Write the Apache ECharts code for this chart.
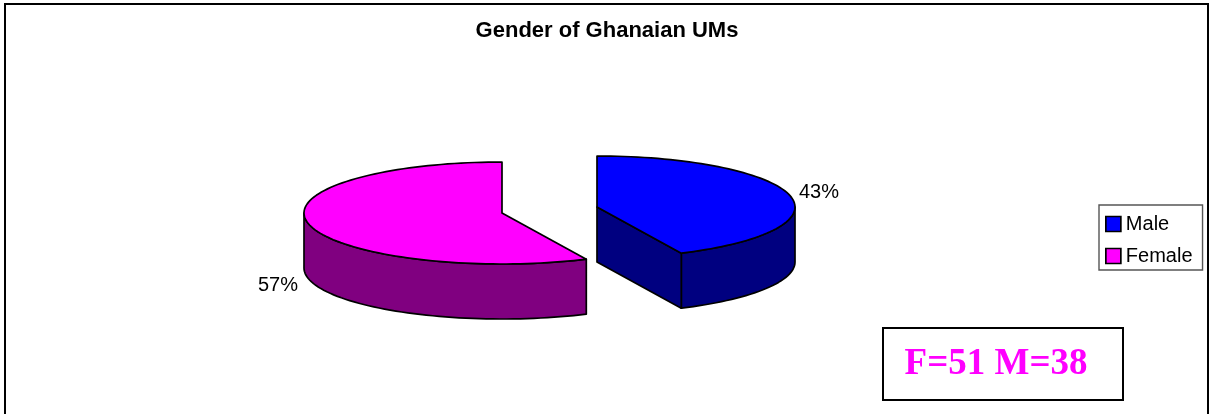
<!DOCTYPE html>
<html>
<head>
<meta charset="utf-8">
<style>html,body{margin:0;padding:0;background:#fff}#c{width:1212px;height:414px}</style>
<script src="https://cdn.jsdelivr.net/npm/echarts@6/dist/echarts.min.js"></script>
</head>
<body>
<div id="c"></div>
<script>
const categories = ['Male', 'Female'];
const shares = [43, 57];
const topColors = ['#0000ff', '#ff00ff'];
const wallColors = ['#000080', '#800080'];
const titleText = 'Gender of Ghanaian UMs';
const noteText = 'F=51 M=38';

const layouts = [
  { cx: 597, cy: 207, label: [819, 192] },
  { cx: 502, cy: 213, label: [278, 285] }
];
const RX = 198, RY = 51, DEPTH = 55, FONT = 'Arial, "Liberation Sans", sans-serif';
const total = shares.reduce((a, b) => a + b, 0);

function makeRender(idx) {
  return function (params, api) {
    const before = shares.slice(0, idx).reduce((a, b) => a + b, 0);
    const a0 = before / total * 360;
    const a1 = (before + api.value(0)) / total * 360;
    const L = layouts[idx];
    const c = api.coord([L.cx, L.cy]);
    const pt = (deg, dz) => {
      const r = deg * Math.PI / 180;
      return [c[0] + RX * Math.sin(r), c[1] - RY * Math.cos(r) + (dz || 0)];
    };
    const arc = (s, e, dz) => {
      const out = [];
      const n = Math.max(2, Math.ceil(Math.abs(e - s) / 2));
      for (let i = 0; i <= n; i++) out.push(pt(s + (e - s) * i / n, dz));
      return out;
    };
    const stroke = { stroke: '#000', lineWidth: 1.7, lineJoin: 'round' };
    const children = [];
    const ws = Math.max(a0, 90), we = Math.min(a1, 270);
    if (we > ws) {
      children.push({
        type: 'polygon',
        shape: { points: arc(ws, we, 0).concat(arc(we, ws, DEPTH)) },
        style: Object.assign({ fill: wallColors[idx] }, stroke)
      });
    }
    if (a1 < 180) {
      const e = pt(a1, 0), e2 = pt(a1, DEPTH);
      children.push({
        type: 'polygon',
        shape: { points: [c, e, e2, [c[0], c[1] + DEPTH]] },
        style: Object.assign({ fill: wallColors[idx] }, stroke)
      });
    }
    children.push({
      type: 'polygon',
      shape: { points: [c].concat(arc(a0, a1, 0)) },
      style: Object.assign({ fill: topColors[idx] }, stroke)
    });
    const lp = api.coord(L.label);
    children.push({
      type: 'text',
      style: {
        text: Math.round(api.value(0) / total * 100) + '%',
        x: lp[0], y: lp[1], align: 'center', verticalAlign: 'middle',
        fill: '#000', font: '20px ' + FONT
      }
    });
    return { type: 'group', children };
  };
}

const chart = echarts.init(document.getElementById('c'), null, { renderer: 'canvas' });
chart.setOption({
  animation: false,
  backgroundColor: '#fff',
  title: {
    text: titleText, left: 602, top: 15, textAlign: 'center',
    textStyle: { fontFamily: FONT, fontSize: 22, fontWeight: 'bold', color: '#000' }
  },
  grid: { left: 0, top: 0, right: 0, bottom: 0 },
  xAxis: { type: 'value', min: 0, max: 1212, show: false },
  yAxis: { type: 'value', min: 0, max: 414, inverse: true, show: false },
  legend: {
    orient: 'vertical', left: 1099, top: 205,
    padding: [9, 10, 4, 6],
    itemWidth: 15, itemHeight: 15, itemGap: 12,
    borderColor: '#555', borderWidth: 1.4, backgroundColor: '#fff',
    textStyle: { fontFamily: FONT, fontSize: 20, color: '#000', lineHeight: 15, padding: [0, 0, 0, 0] },
    data: categories.map((n, i) => ({
      name: n, icon: 'rect',
      itemStyle: { color: topColors[i], borderColor: '#000', borderWidth: 1.7 }
    }))
  },
  series: categories.map((n, i) => ({
    type: 'custom', name: n, coordinateSystem: 'cartesian2d', clip: false,
    itemStyle: { color: topColors[i] },
    renderItem: makeRender(i),
    data: [[shares[i]]]
  })),
  graphic: [
    { type: 'rect', silent: true, z: -10, shape: { x: 5, y: 4, width: 1203, height: 430 },
      style: { fill: '#fff', stroke: '#000', lineWidth: 2 } },
    { type: 'rect', silent: true, z: 5, shape: { x: 883, y: 328, width: 240, height: 72 },
      style: { fill: '#fff', stroke: '#000', lineWidth: 2 } },
    { type: 'text', silent: true, z: 6, x: 996, y: 364,
      style: { text: noteText, align: 'center', verticalAlign: 'middle', fill: '#ff00ff',
        font: 'bold 37px "Liberation Serif", "Times New Roman", serif' } }
  ]
});
</script>
</body>
</html>
